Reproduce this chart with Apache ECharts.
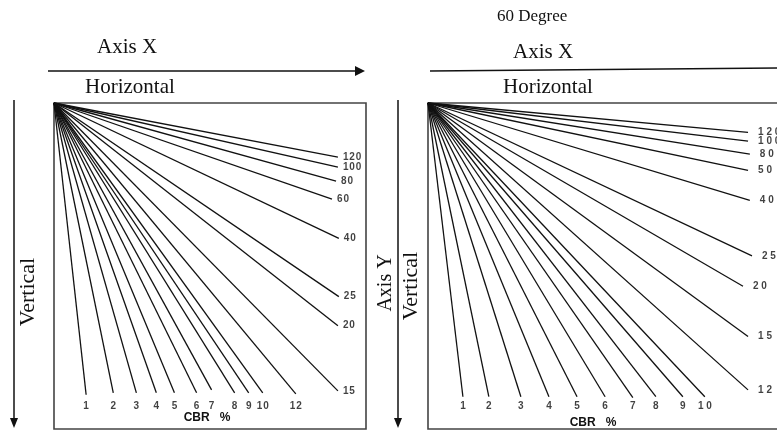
<!DOCTYPE html>
<html>
<head>
<meta charset="utf-8">
<title>CBR rays</title>
<script src="https://cdn.jsdelivr.net/npm/echarts@6/dist/echarts.min.js"></script>
<style>
  html, body { margin: 0; padding: 0; background: #fff; }
  #chart { width: 777px; height: 431px; }
</style>
</head>
<body>
<div id="chart"></div>
<script>
// left panel (horizontal) - ray ends in % of the box, origin top-left
var leftCbr = ['1', '2', '3', '4', '5', '6', '7', '8', '9', '10', '12', '15', '20', '25', '40', '60', '80', '100', '120']
var leftEndX = [10.3, 19.0, 26.4, 32.8, 38.6, 45.7, 50.5, 57.9, 62.4, 66.9, 77.5, 91.0, 91.0, 91.3, 91.3, 89.1, 90.4, 91.0, 91.0]
var leftEndY = [89.5, 88.9, 88.9, 88.9, 88.9, 88.9, 88.0, 88.9, 88.9, 88.9, 89.2, 88.3, 68.3, 59.4, 41.5, 29.5, 24.0, 19.7, 16.6]

// right panel (60 degree)
var rightCbr = ['1', '2', '3', '4', '5', '6', '7', '8', '9', '10', '12', '15', '20', '25', '40', '50', '80', '100', '120']
var rightEndX = [9.7, 16.9, 25.8, 33.6, 41.4, 49.2, 56.9, 63.3, 70.8, 76.9, 88.9, 88.9, 87.5, 90.0, 89.4, 88.9, 89.4, 88.9, 88.9]
var rightEndY = [90.1, 90.1, 90.1, 90.1, 90.1, 90.1, 90.4, 90.1, 90.1, 90.1, 88.0, 71.6, 56.2, 46.9, 29.9, 20.7, 15.7, 11.7, 9.0]

// row where the CBR numbers under the fan sit (% of box)
var bottomRow = 91

var chart = echarts.init(document.getElementById('chart'))

var serif = '"Liberation Serif", "DejaVu Serif", serif'
var sans = '"Liberation Sans", "DejaVu Sans", sans-serif'

function axisPair(idx) {
  return {
    x: { gridIndex: idx, type: 'value', min: 0, max: 100, show: false },
    y: { gridIndex: idx, type: 'value', min: 0, max: 100, inverse: true, show: false }
  }
}

function raySeries(idx, cbr, endX, endY, labelDist, gap, fontSize) {
  var out = []
  cbr.forEach(function (c, i) {
    out.push({
      type: 'line',
      xAxisIndex: idx,
      yAxisIndex: idx,
      data: [[0, 0], [endX[i], endY[i]]],
      symbol: 'none',
      lineStyle: { color: '#111', width: 1.3 },
      silent: true
    })
  })
  // labels at the ray ends
  out.push({
    type: 'scatter',
    xAxisIndex: idx,
    yAxisIndex: idx,
    symbolSize: 0,
    silent: true,
    clip: false,
    data: cbr.map(function (c, i) {
      var bottom = endX[i] < 85
      return {
        value: [endX[i], bottom ? bottomRow : endY[i], c],
        label: {
          show: true,
          position: bottom ? 'bottom' : 'right',
          distance: bottom ? 2 : labelDist
        }
      }
    }),
    label: {
      formatter: function (p) {
        return p.value[2].split('').join(gap)
      },
      color: '#111',
      fontFamily: sans,
      fontWeight: 'bold',
      fontSize: fontSize
    }
  })
  return out
}

var a0 = axisPair(0)
var a1 = axisPair(1)

function arrowDown(x) {
  return [
    { type: 'line', shape: { x1: x, y1: 100, x2: x, y2: 421 }, style: { stroke: '#111', lineWidth: 1.5 } },
    { type: 'polygon', shape: { points: [[x - 4, 418], [x, 428], [x + 4, 418]] }, style: { fill: '#111' } }
  ]
}

function txt(x, y, text, size, rot, align) {
  return {
    type: 'text',
    x: x,
    y: y,
    rotation: rot || 0,
    style: {
      text: text,
      font: size + 'px ' + serif,
      fill: '#111',
      align: align || 'left',
      verticalAlign: 'middle'
    }
  }
}

var graphics = [
  // left panel annotations
  txt(97, 47, 'Axis X', 21),
  { type: 'line', shape: { x1: 48, y1: 71, x2: 356, y2: 71 }, style: { stroke: '#111', lineWidth: 1.5 } },
  { type: 'polygon', shape: { points: [[355, 66], [365, 71], [355, 76]] }, style: { fill: '#111' } },
  txt(85, 87, 'Horizontal', 21),
  txt(28, 292, 'Vertical', 22, Math.PI / 2, 'center'),
  // right panel annotations
  txt(497, 17, '60 Degree', 17),
  txt(513, 52, 'Axis X', 21),
  { type: 'line', shape: { x1: 430, y1: 71, x2: 777, y2: 68 }, style: { stroke: '#111', lineWidth: 1.3 } },
  txt(503, 87, 'Horizontal', 21),
  txt(386, 283, 'Axis Y', 20, Math.PI / 2, 'center'),
  txt(411, 286, 'Vertical', 22, Math.PI / 2, 'center'),
  // CBR % under each fan
  {
    type: 'text', x: 207, y: 418,
    style: { text: 'CBR   %', font: 'bold 12px ' + sans, fill: '#111', align: 'center', verticalAlign: 'middle' }
  },
  {
    type: 'text', x: 593, y: 423,
    style: { text: 'CBR   %', font: 'bold 12px ' + sans, fill: '#111', align: 'center', verticalAlign: 'middle' }
  }
].concat(arrowDown(14), arrowDown(398))

chart.setOption({
  animation: false,
  backgroundColor: '#fff',
  grid: [
    { left: 54, top: 103, width: 312, height: 326, outerBoundsMode: 'none', show: true, borderColor: '#444', borderWidth: 1.6, backgroundColor: 'transparent' },
    { left: 428, top: 103, width: 360, height: 326, outerBoundsMode: 'none', show: true, borderColor: '#444', borderWidth: 1.6, backgroundColor: 'transparent' }
  ],
  xAxis: [a0.x, a1.x],
  yAxis: [a0.y, a1.y],
  series: raySeries(0, leftCbr, leftEndX, leftEndY, 5, '\u200A', 10)
    .concat(raySeries(1, rightCbr, rightEndX, rightEndY, 10, ' ', 10)),
  graphic: graphics
})
</script>
</body>
</html>
